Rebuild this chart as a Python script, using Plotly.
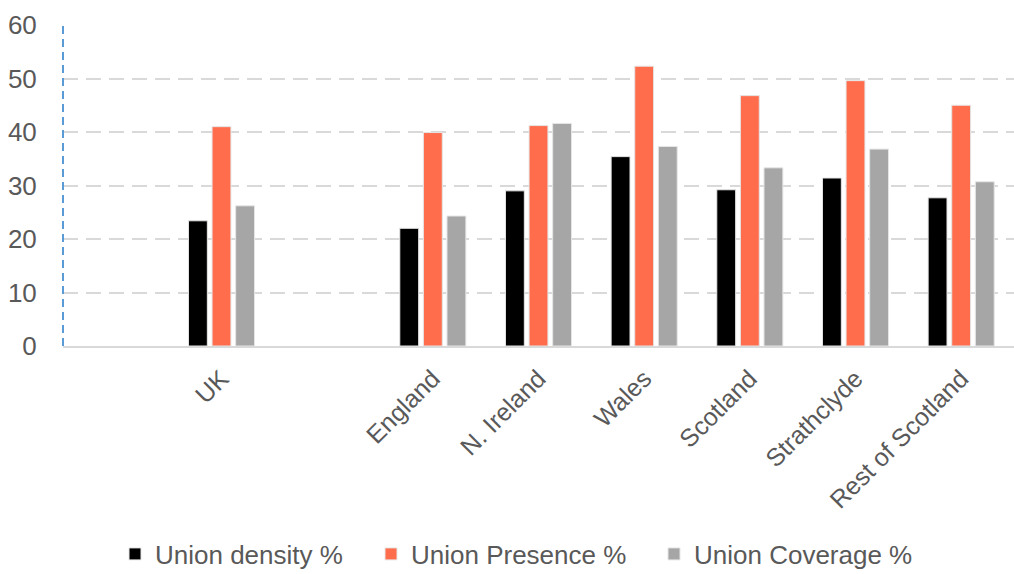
import plotly.graph_objects as go

categories = [" ", "UK", "  ", "England", "N. Ireland", "Wales", "Scotland", "Strathclyde", "Rest of Scotland"]
union_density = [None, 23.4, None, 22.0, 29.0, 35.4, 29.2, 31.4, 27.7]
union_presence = [None, 41.0, None, 39.9, 41.2, 52.3, 46.8, 49.6, 45.0]
union_coverage = [None, 26.2, None, 24.3, 41.6, 37.3, 33.3, 36.8, 30.7]
y_ticks = [0, 10, 20, 30, 40, 50, 60]

series = [
    ("Union density %", union_density, "#000000", "legend"),
    ("Union Presence %", union_presence, "#ff6d4d", "legend2"),
    ("Union Coverage %", union_coverage, "#a6a6a6", "legend3"),
]

fig = go.Figure()
for name, vals, col, lg in series:
    fig.add_trace(go.Bar(
        x=categories, y=vals, name=name, legend=lg,
        marker=dict(color=col, line=dict(color="#e6e6e6", width=1)),
    ))

font = "Liberation Sans, Arial, sans-serif"
L, W, T, B = 63, 951, 25, 228
PH = 574 - T - B


def legend_at(px):
    return dict(orientation="h", x=(px - L) / W, xanchor="left",
                y=(574 - B - 554) / PH, yanchor="middle",
                font=dict(size=26, color="#595959"), itemwidth=30, bgcolor="rgba(0,0,0,0)")


fig.update_layout(
    width=1014, height=574,
    margin=dict(l=L, r=0, t=T, b=B, autoexpand=False),
    paper_bgcolor="white", plot_bgcolor="white",
    barmode="group", bargap=0.33, bargroupgap=0.2,
    font=dict(family=font, size=25, color="#595959"),
    showlegend=True,
    legend=legend_at(115),
    legend2=legend_at(371),
    legend3=legend_at(654),
    xaxis=dict(type="category", categoryorder="array", categoryarray=categories,
               tickangle=-45, showline=True, linecolor="#d9d9d9", linewidth=2,
               ticks="outside", ticklen=6, tickcolor="rgba(0,0,0,0)",
               showgrid=False, automargin=False,
               tickfont=dict(size=25, color="#595959")),
    yaxis=dict(range=[0, 60], tickvals=y_ticks, showgrid=True, gridcolor="#d9d9d9",
               gridwidth=2, griddash="15px,8px", zeroline=False, showline=False,
               ticks="outside", ticklen=20, tickcolor="rgba(0,0,0,0)",
               automargin=False, tickfont=dict(size=26, color="#595959")),
)
fig.add_shape(type="line", xref="paper", yref="y", x0=0, x1=0, y0=0, y1=60,
              line=dict(color="#5b9bd5", width=2, dash="8px,5px"))

fig.write_html("out.html", config={"displayModeBar": False},
               post_script="document.body.style.margin='0';document.body.style.overflow='hidden';")
